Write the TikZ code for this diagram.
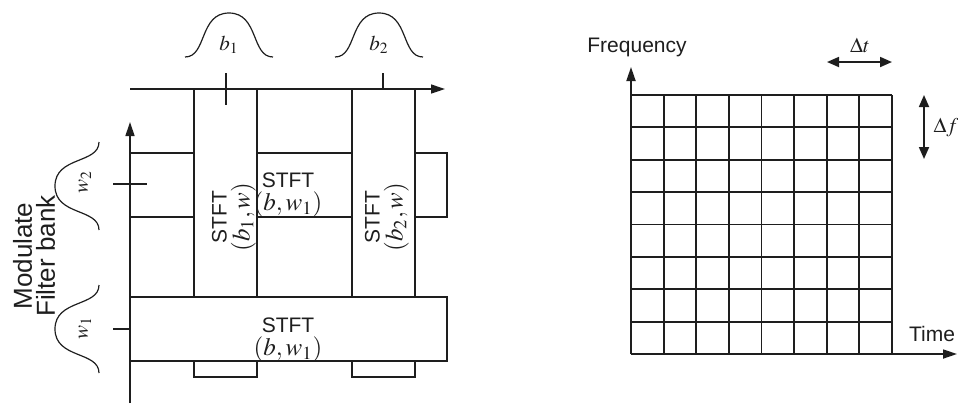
\documentclass[tikz,border=0pt]{standalone}
\usepackage{mathptmx}
\usepackage{fontspec}
\setmainfont{Liberation Sans}
\usetikzlibrary{arrows.meta}
\definecolor{ink}{HTML}{1E1E1E}
\newcommand{\bigmath}[1]{{\fontsize{12.5}{10}\selectfont$#1$}}
\tikzset{
  box/.style={draw=ink,line width=0.6pt},
  gridline/.style={draw=ink,line width=0.9pt},
  axis/.style={draw=ink,line width=0.7pt,-{Triangle[length=7pt,width=4.5pt]}},
  dblarrow/.style={draw=ink,line width=0.9pt,{Triangle[length=6pt,width=5pt]}-{Triangle[length=6pt,width=5pt]}},
  lbl/.style={font=\fontsize{10.5}{10}\selectfont,align=center,inner sep=0pt,text=ink},
  bell/.pic={\draw[ink,line width=0.6pt] (-44,0) .. controls (-22,0) and (-30,-44) .. (0,-44) .. controls (30,-44) and (22,0) .. (44,0);}
}

\begin{document}
\begin{tikzpicture}[x=0.5pt,y=-0.5pt]
\useasboundingbox (0,0) rectangle (958,404);
% filter bank tiling
\coordinate (bo) at (130,89);
\coordinate (bx) at (445,89);
\coordinate (wo) at (130,403);
\coordinate (wy) at (130,122);
\draw[axis] (bo) -- (bx);
\draw[axis] (wo) -- (wy);
\draw[box] (194,89) rectangle (257,297);
\draw[box] (352,89) rectangle (415,297);
\draw[box] (130,153) -- (194,153) (130,217) -- (194,217);
\draw[box] (257,153) rectangle (352,217);
\draw[box] (415,153) -| (447,217) -- (415,217);
\draw[box] (130,297) rectangle (447,361);
\draw[box] (194,361) rectangle (257,377);
\draw[box] (352,361) rectangle (415,377);
\draw[box] (226,73) -- (226,105) (383,73) -- (383,89);
\draw[box] (113,184) -- (147,184) (113,329) -- (130,329);
\pic at (229,57) {bell};
\pic at (379,57) {bell};
\pic[rotate=90] at (99,186) {bell};
\pic[rotate=90] at (99,329) {bell};
\node[lbl] (b1) at (229,45) {$b_1$};
\node[lbl] (b2) at (379,45) {$b_2$};
\node[lbl,rotate=90] (w2) at (85,182) {$w_2$};
\node[lbl,rotate=90] (w1) at (85,328) {$w_1$};
\node[lbl,rotate=90,font=\fontsize{13}{11.5}\selectfont] (bank) at (34,256) {Modulate\\Filter bank};
\node[lbl,rotate=90] (stb1) at (234,217) {STFT\\[1.5pt]\bigmath{(b_1,w)}};
\node[lbl,rotate=90] (stb2) at (387,217) {STFT\\[1.5pt]\bigmath{(b_2,w)}};
\node[lbl] (stmid) at (288,195) {STFT\\[1.5pt]\bigmath{(b,w_1)}};
\node[lbl] (stlow) at (288,340) {STFT\\[1.5pt]\bigmath{(b,w_1)}};
% uniform time-frequency grid
\coordinate (fo) at (631,354);
\coordinate (fy) at (631,67);
\coordinate (tx) at (957,354);
\foreach \i in {0,...,8}{
  \draw[gridline] (631+\i*32.625,95) -- (631+\i*32.625,354);
  \draw[gridline] (631,95+\i*32.375) -- (892,95+\i*32.375);
}
\draw[axis,line width=0.9pt] (fo) -- (fy);
\draw[axis,line width=0.9pt] (fo) -- (tx);
\node[lbl] (freq) at (637,47) {Frequency};
\node[lbl] (time) at (932,334) {Time};
\coordinate (dtl) at (827,62);
\coordinate (dtr) at (892,62);
\draw[dblarrow] (dtl) -- (dtr);
\node[lbl] (dt) at (860,45) {$\Delta t$};
\coordinate (dft) at (924,95);
\coordinate (dfb) at (924,159);
\draw[dblarrow] (dft) -- (dfb);
\node[lbl] (df) at (946,128) {$\Delta f$};
\end{tikzpicture}
\end{document}
